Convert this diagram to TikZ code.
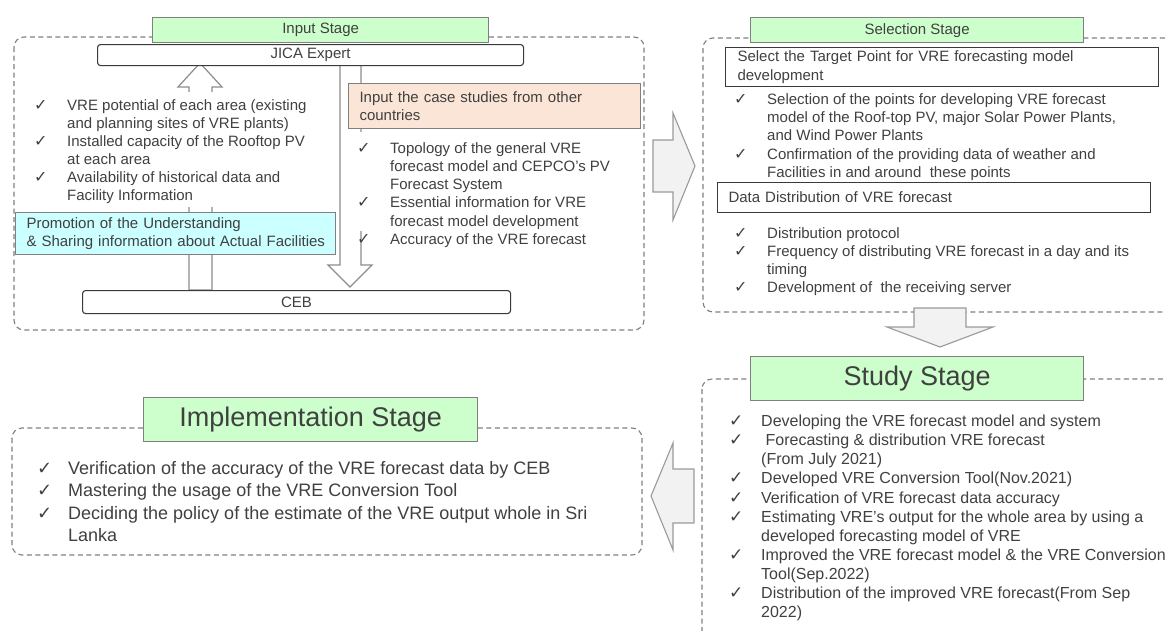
\documentclass[tikz,border=0pt]{standalone}
\usepackage{fontspec}
\setmainfont{Liberation Sans}
\newfontfamily\symfont{DejaVu Sans}

\definecolor{txt}{HTML}{404040}
\definecolor{hdrfill}{HTML}{CCFFCC}
\definecolor{hdrline}{HTML}{808080}
\definecolor{dashc}{HTML}{7F7F7F}
\definecolor{boxline}{HTML}{3A3A3A}
\definecolor{peach}{HTML}{FBE5D6}
\definecolor{cyanbox}{HTML}{CCFFFF}
\definecolor{arrfill}{HTML}{F2F2F2}
\definecolor{arrline}{HTML}{9A9A9A}
\definecolor{hollowline}{HTML}{8C8C8C}

\newcommand{\fsz}[2]{\fontsize{#1}{#2}\selectfont}
% check mark bullet: #1 = glyph size, #2 = hanging indent, #3 = text
\newcommand{\ckitem}[3]{\makebox[#2][l]{{\symfont\fontsize{#1}{#1}\selectfont ✓}}#3}
\newcommand{\cont}[2]{\hspace*{#1}#2}

\tikzset{
  dashframe/.style={draw=dashc, line width=1.1pt, dash pattern=on 5pt off 3.5pt, rounded corners=10pt},
  stagebox/.style={draw=hdrline, fill=hdrfill, line width=1.3pt, inner sep=0pt, text=txt, anchor=north west},
  plainbox/.style={draw=boxline, line width=1.1pt, fill=white, inner sep=0pt, text=txt, anchor=north west, font=\fsz{15}{18}},
  notebox/.style={draw=hdrline, line width=1.1pt, inner xsep=11pt, inner ysep=0pt, text=txt, anchor=north west, align=left, font=\fsz{15}{18.5}},
  hollowarrow/.style={draw=hollowline, line width=1.2pt, fill=white},
  blockarrow/.style={draw=arrline, line width=1.1pt, fill=arrfill},
  checklist/.style={anchor=north west, inner sep=0pt, align=left, text=txt},
  mask/.style={fill=white, draw=none},
}

\begin{document}
\begin{tikzpicture}[x=1pt, y=-1pt]
\useasboundingbox (0,0) rectangle (1165,630);
\clip (0,0) rectangle (1165,630);

% ---------- dashed stage frames ----------
\draw[dashframe] (14,37) rectangle (644,330);
\draw[dashframe] (703,38) rectangle (1190,312);
\draw[dashframe] (702,379) rectangle (1190,660);
\draw[dashframe] (12,428) rectangle (642,555);

% ---------- stage headers ----------
\node[stagebox, minimum width=336, minimum height=25, font=\fsz{15}{18}] (inhdr) at (152,17) {Input Stage};
\node[stagebox, minimum width=333, minimum height=25, font=\fsz{15}{18}] (selhdr) at (750,17) {Selection Stage};
\node[stagebox, minimum width=333, minimum height=44, font=\fsz{27}{30}] (studyhdr) at (750,356) {Study Stage};
\node[stagebox, minimum width=334, minimum height=44, font=\fsz{27}{30}] (implhdr) at (143,397) {Implementation Stage};

% ---------- input stage: exchange arrows between JICA and CEB ----------
\draw[hollowarrow] (189,290) -- (189,87) -- (178,87) -- (200,63) -- (222,87) -- (212,87) -- (212,290) -- cycle;
\draw[hollowarrow] (340,65) -- (340,265) -- (328,265) -- (350,287) -- (372,265) -- (361,265) -- (361,65) -- cycle;

% text frames lying over the arrow shafts
\fill[mask] (30,92) rectangle (312,207);
\fill[mask] (352,132) rectangle (640,231);

\node[plainbox, rounded corners=3pt, minimum width=426, minimum height=21] (jica) at (97,44) {JICA Expert};
\node[plainbox, rounded corners=3pt, minimum width=428, minimum height=23] (ceb) at (82,290) {CEB};

\node[notebox, fill=peach, text width=270, minimum height=45] (cases) at (348,83)
  {\mbox{Input the case studies from other}\\countries};
\node[notebox, fill=cyanbox, text width=298, minimum height=42] (promo) at (15,212)
  {\mbox{Promotion of the Understanding}\\\mbox{\& Sharing information about Actual Facilities}};

\node[checklist, font=\fsz{15}{18}] (inleft) at (34,97.4) {%
  \strut\ckitem{16}{33pt}{VRE potential of each area (existing}\\
  \cont{33pt}{and planning sites of VRE plants)}\\
  \ckitem{16}{33pt}{Installed capacity of the Rooftop PV}\\
  \cont{33pt}{at each area}\\
  \ckitem{16}{33pt}{Availability of historical data and}\\
  \cont{33pt}{Facility Information}};

\node[checklist, font=\fsz{15}{18.2}] (inright) at (357,140.3) {%
  \strut\ckitem{16}{33pt}{Topology of the general VRE}\\
  \cont{33pt}{forecast model and CEPCO’s PV}\\
  \cont{33pt}{Forecast System}\\
  \ckitem{16}{33pt}{Essential information for VRE}\\
  \cont{33pt}{forecast model development}\\
  \ckitem{16}{33pt}{Accuracy of the VRE forecast}};

% ---------- selection stage ----------
\node[plainbox, align=left, inner xsep=12pt, text width=409, minimum height=39] (target) at (725,47)
  {\mbox{Select the Target Point for VRE forecasting model}\\[1pt]development};
\node[checklist, font=\fsz{15}{18.3}] (sellist) at (734,91.2) {%
  \strut\ckitem{16}{33pt}{Selection of the points for developing VRE forecast}\\
  \cont{33pt}{model of the Roof-top PV, major Solar Power Plants,}\\
  \cont{33pt}{and Wind Power Plants}\\
  \ckitem{16}{33pt}{Confirmation of the providing data of weather and}\\
  \cont{33pt}{Facilities in and around\ \ these points}};

\node[plainbox, align=left, inner xsep=11pt, text width=411, minimum height=30] (distr) at (717,182)
  {Data Distribution of VRE forecast};
\node[checklist, font=\fsz{15}{18.2}] (distlist) at (734,225.2) {%
  \strut\ckitem{16}{33pt}{Distribution protocol}\\
  \ckitem{16}{33pt}{Frequency of distributing VRE forecast in a day and its}\\
  \cont{33pt}{timing}\\
  \ckitem{16}{33pt}{Development of\ \ the receiving server}};

% ---------- study stage ----------
\node[checklist, font=\fsz{16}{19.1}] (studylist) at (729,413.1) {%
  \strut\ckitem{17}{32pt}{Developing the VRE forecast model and system}\\
  \ckitem{17}{32pt}{\ Forecasting \& distribution VRE forecast}\\
  \cont{32pt}{(From July 2021)}\\
  \ckitem{17}{32pt}{Developed VRE Conversion Tool(Nov.2021)}\\
  \ckitem{17}{32pt}{Verification of VRE forecast data accuracy}\\
  \ckitem{17}{32pt}{Estimating VRE’s output for the whole area by using a}\\
  \cont{32pt}{developed forecasting model of VRE}\\
  \ckitem{17}{32pt}{Improved the VRE forecast model \& the VRE Conversion}\\
  \cont{32pt}{Tool(Sep.2022)}\\
  \ckitem{17}{32pt}{Distribution of the improved VRE forecast(From Sep}\\
  \cont{32pt}{2022)}};

% ---------- implementation stage ----------
\node[checklist, font=\fsz{18}{22.5}] (impllist) at (37,458.3) {%
  \strut\ckitem{18}{31pt}{Verification of the accuracy of the VRE forecast data by CEB}\\
  \ckitem{18}{31pt}{Mastering the usage of the VRE Conversion Tool}\\
  \ckitem{18}{31pt}{Deciding the policy of the estimate of the VRE output whole in Sri}\\
  \cont{31pt}{Lanka}};

% ---------- flow between stages ----------
\draw[blockarrow] (653,140) -- (673,140) -- (673,113) -- (695,166) -- (673,220) -- (673,192) -- (653,192) -- cycle;
\draw[blockarrow] (914,308) -- (966,308) -- (966,327) -- (993,327) -- (940,347) -- (887,327) -- (914,327) -- cycle;
\draw[blockarrow] (694,469) -- (673,469) -- (673,443) -- (651,496) -- (673,550) -- (673,523) -- (694,523) -- cycle;
\end{tikzpicture}
\end{document}
